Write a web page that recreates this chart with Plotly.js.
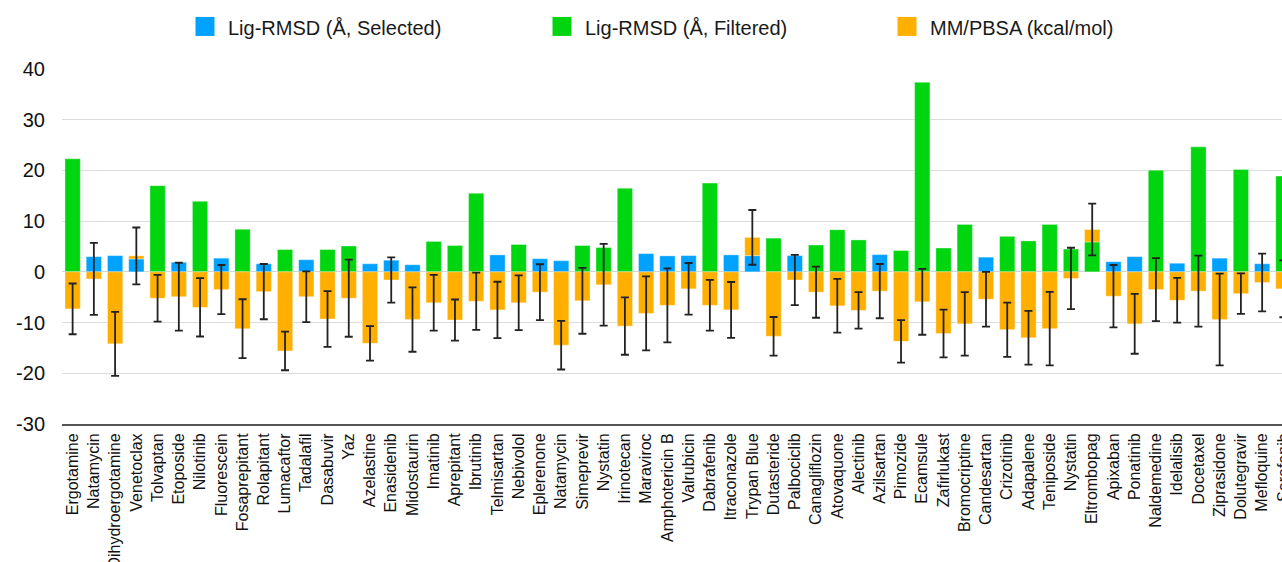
<!DOCTYPE html>
<html>
<head>
<meta charset="utf-8">
<script src="https://cdn.plot.ly/plotly-3.0.1.min.js"></script>
<style>
  html, body { margin: 0; padding: 0; overflow: hidden; background: #ffffff; }
  #chart { width: 1295px; height: 600px; }
</style>
</head>
<body>
<div id="chart"></div>
<script>
// ---- data ----
const drugs = [
  "Ergotamine","Natamycin","Dihydroergotamine","Venetoclax","Tolvaptan","Etoposide","Nilotinib",
  "Fluorescein","Fosaprepitant","Rolapitant","Lumacaftor","Tadalafil","Dasabuvir","Yaz","Azelastine",
  "Enasidenib","Midostaurin","Imatinib","Aprepitant","Ibrutinib","Telmisartan","Nebivolol","Eplerenone",
  "Natamycin","Simeprevir","Nystatin","Irinotecan","Maraviroc","Amphotericin B","Valrubicin","Dabrafenib",
  "Itraconazole","Trypan Blue","Dutasteride","Palbociclib","Canagliflozin","Atovaquone","Alectinib",
  "Azilsartan","Pimozide","Ecamsule","Zafirlukast","Bromocriptine","Candesartan","Crizotinib","Adapalene",
  "Teniposide","Nystatin","Eltrombopag","Apixaban","Ponatinib","Naldemedine","Idelalisib","Docetaxel",
  "Ziprasidone","Dolutegravir","Mefloquine","Sorafenib"
];

// Lig-RMSD (Å, Selected)
const rmsdSelected = [
  null, 3.0, 3.2, 2.55, null, 1.9, null, 2.7, null, 1.6,
  null, 2.4, null, null, 1.6, 2.3, 1.4, null, null, null,
  3.35, null, 2.6, 2.2, null, null, null, 3.6, 3.15, 3.2,
  null, 3.35, 3.2, null, 3.2, null, null, null, 3.4, null,
  null, null, null, 2.9, null, null, null, null, null, 2.0,
  3.0, null, 1.7, null, 2.7, null, 1.6, null
];

// Lig-RMSD (Å, Filtered)
const rmsdFiltered = [
  22.3, null, null, null, 17.0, null, 13.9, null, 8.4, null,
  4.4, null, 4.4, 5.1, null, null, null, 6.0, 5.2, 15.5,
  null, 5.4, null, null, 5.2, 4.8, 16.5, null, null, null,
  17.5, null, null, 6.65, null, 5.3, 8.3, 6.3, null, 4.2,
  37.4, 4.7, 9.35, null, 7.0, 6.1, 9.35, 4.5, 5.9, null,
  null, 20.05, null, 24.65, null, 20.2, null, 18.9
];

// MM/PBSA (kcal/mol)
const mmpbsa = [
  -7.3, -1.4, -14.2, 0.6, -5.2, -4.9, -7.0, -3.5, -11.2, -3.9,
  -15.6, -4.9, -9.3, -5.2, -14.1, -1.6, -9.4, -6.1, -9.5, -5.8,
  -7.5, -6.1, -4.0, -14.45, -5.7, -2.55, -10.7, -8.2, -6.6, -3.35,
  -6.6, -7.5, 3.6, -12.7, -1.6, -4.0, -6.7, -7.6, -3.8, -13.7,
  -5.9, -12.15, -10.25, -5.4, -11.4, -13.0, -11.2, -1.3, 2.45, -4.8,
  -10.25, -3.5, -5.6, -3.8, -9.4, -4.3, -2.1, -3.35
];

const mmpbsaErr = [
  5.0, 7.1, 6.3, 5.6, 4.6, 6.7, 5.75, 4.85, 5.8, 5.45,
  3.8, 5.0, 5.5, 7.6, 3.4, 4.45, 6.35, 5.5, 4.05, 5.65,
  5.55, 5.4, 5.5, 4.8, 6.5, 8.05, 5.65, 7.3, 7.3, 5.1,
  5.0, 5.5, 5.4, 3.8, 4.95, 5.05, 5.3, 3.6, 5.35, 4.2,
  6.5, 4.7, 6.25, 5.4, 5.35, 5.3, 7.25, 6.05, 5.1, 6.15,
  5.9, 6.2, 4.4, 7.0, 9.05, 4.0, 5.7, 5.6
];

const yTickVals = [-30, -20, -10, 0, 10, 20, 30, 40];
const yTickText = ["-30", "-20", "-10", "0", "10", "20", "30", "40"];

// ---- chart ----
const xIdx = drugs.map((_, i) => i);
const FONT = "Liberation Sans, Arial, Helvetica, sans-serif";
const edge = { color: "rgba(255,255,255,0.35)", width: 1 };

const traces = [
  {
    type: "bar", name: "Lig-RMSD (Å, Selected)", x: xIdx, y: rmsdSelected,
    marker: { color: "#00A2FF", line: edge }, legendwidth: 312, hoverinfo: "y"
  },
  {
    type: "bar", name: "Lig-RMSD (Å, Filtered)", x: xIdx, y: rmsdFiltered,
    marker: { color: "#00D60F", line: edge }, legendwidth: 300, hoverinfo: "y"
  },
  {
    type: "bar", name: "MM/PBSA (kcal/mol)", x: xIdx, y: mmpbsa,
    marker: { color: "#FFAF00", line: edge },
    error_y: { type: "data", array: mmpbsaErr, visible: true, color: "#222222", thickness: 1.8, width: 4 },
    hoverinfo: "y"
  }
];

const layout = {
  width: 1295,
  height: 600,
  margin: { l: 62, r: 1, t: 69, b: 176, autoexpand: false },
  paper_bgcolor: "#ffffff",
  plot_bgcolor: "#ffffff",
  font: { family: FONT, color: "#1a1a1a" },
  barmode: "relative",
  bargap: 0.28,
  showlegend: true,
  legend: {
    orientation: "h",
    x: (188 - 62) / 1232, xanchor: "left",
    y: 1.172, yanchor: "top",
    font: { size: 20, color: "#1a1a1a", family: FONT },
    bgcolor: "rgba(0,0,0,0)",
    traceorder: "normal"
  },
  xaxis: {
    type: "linear",
    range: [-0.5, 57.5],
    tickmode: "array",
    tickvals: xIdx,
    ticktext: drugs,
    tickangle: -90,
    tickfont: { size: 16, color: "#111111", family: FONT },
    showgrid: false,
    zeroline: false,
    showline: true,
    linecolor: "#555555",
    linewidth: 2,
    ticks: "",
    ticklabelstandoff: 1,
    fixedrange: true
  },
  yaxis: {
    range: [-30, 40],
    tickmode: "array",
    tickvals: yTickVals,
    ticktext: yTickText,
    tickfont: { size: 20, color: "#111111", family: FONT },
    showgrid: true,
    gridcolor: "#dcdcdc",
    gridwidth: 1,
    zeroline: true,
    zerolinecolor: "#d4d4d4",
    zerolinewidth: 1,
    showline: false,
    ticks: "",
    ticklabelstandoff: 16,
    fixedrange: true
  }
};

function enlargeSwatches(gd) {
  // larger square legend swatches, as in the reference
  gd.querySelectorAll(".legend .legendpoints path").forEach(function (p) {
    p.setAttribute("d", "M6.5,8.5H-12.5V-10.5H6.5Z");
    p.style.strokeWidth = "0px";
  });
}

const gd = document.getElementById("chart");
Plotly.newPlot(gd, traces, layout, { displayModeBar: false, staticPlot: true }).then(function () {
  enlargeSwatches(gd);
  setTimeout(function () { enlargeSwatches(gd); }, 50);
});
</script>
</body>
</html>
